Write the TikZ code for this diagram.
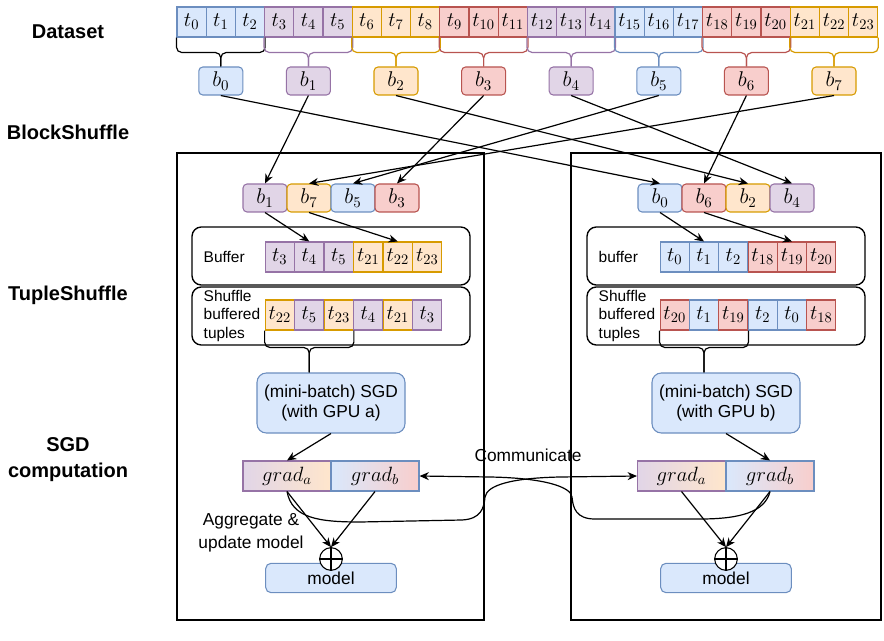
\documentclass[tikz,border=0pt]{standalone}
\usepackage{fix-cm}
\usepackage{fontspec}
\setmainfont{Liberation Sans}
\usepackage{xcolor}
\definecolor{sgblue}{HTML}{6C8EBF}
\definecolor{sgbluebg}{HTML}{DAE8FC}
\definecolor{sgpurple}{HTML}{9673A6}
\definecolor{sgpurplebg}{HTML}{E1D5E7}
\definecolor{sgorange}{HTML}{D79B00}
\definecolor{sgorangebg}{HTML}{FFE6CC}
\definecolor{sgred}{HTML}{B85450}
\definecolor{sgredbg}{HTML}{F8CECC}
\usepackage{tikz}
\usetikzlibrary{arrows.meta, calc}

% brace under a group of cells: colour, left cell, right cell, middle cell, target, drop
\newcommand{\grpbrace}[6]{%
  \draw[#1, line width=0.9pt, rounded corners=4pt] (#2.south west) -- ++(0,#6) -| (#4 |- #5.north);
  \draw[#1, line width=0.9pt, rounded corners=4pt] (#3.south east) -- ++(0,#6) -| (#4 |- #5.north);
}

\begin{document}
\begin{tikzpicture}[x=0.75pt, y=-0.75pt,
  cell/.style={draw, line width=0.8pt, minimum width=21.9pt, minimum height=22.5pt, inner sep=0pt, font=\fontsize{15.5}{18}\selectfont},
  blk/.style={draw, line width=0.8pt, rounded corners=3pt, minimum width=33pt, minimum height=21pt, inner sep=0pt, font=\fontsize{16}{18}\selectfont},
  cb/.style={fill=sgbluebg, draw=sgblue},
  cp/.style={fill=sgpurplebg, draw=sgpurple},
  co/.style={fill=sgorangebg, draw=sgorange},
  cr/.style={fill=sgredbg, draw=sgred},
  gcell/.style={draw, line width=0.8pt, minimum width=66pt, minimum height=22.5pt, inner sep=0pt, font=\fontsize{15.5}{18}\selectfont},
  sgdbox/.style={draw=sgblue, fill=sgbluebg, line width=0.8pt, rounded corners=7pt, minimum width=111pt, minimum height=45pt, align=center, font=\fontsize{13}{15}\selectfont},
  modelbox/.style={draw=sgblue, fill=sgbluebg, line width=0.8pt, rounded corners=4pt, minimum width=98pt, minimum height=22pt, font=\fontsize{13}{15}\selectfont},
  sumnode/.style={draw, circle, fill=white, line width=0.8pt, minimum size=17pt, inner sep=0pt},
  stage/.style={font=\fontsize{15}{19.5}\selectfont\bfseries, align=center},
  txt/.style={font=\fontsize{13}{15}\selectfont, align=center},
  boxtxt/.style={font=\fontsize{11.6}{14}\selectfont, align=left, anchor=west},
  arr/.style={-{Stealth[length=7pt, width=6pt]}, line width=0.9pt},
  frame/.style={line width=1pt, rounded corners=7pt}
]
  \useasboundingbox (0,0) rectangle (884,641);

  % Stage labels
  \node[stage] (lDataset) at (68,32) {Dataset};
  \node[stage] (lBlock) at (68,132) {BlockShuffle};
  \node[stage] (lTuple) at (68,295) {TupleShuffle};
  \node[stage] (lSGD) at (68,460) {SGD\\computation};

  % Worker panels
  \draw[line width=1pt] (177,153) rectangle (484,620);
  \draw[line width=1pt] (571,153) rectangle (881,620);

  % Dataset tuples
  \node[cell, cb] (t0) at (191.6,22) {$t_{0}$};
  \node[cell, cb] (t1) at (220.8,22) {$t_{1}$};
  \node[cell, cb] (t2) at (250.0,22) {$t_{2}$};
  \node[cell, cp] (t3) at (279.2,22) {$t_{3}$};
  \node[cell, cp] (t4) at (308.4,22) {$t_{4}$};
  \node[cell, cp] (t5) at (337.6,22) {$t_{5}$};
  \node[cell, co] (t6) at (366.8,22) {$t_{6}$};
  \node[cell, co] (t7) at (396.0,22) {$t_{7}$};
  \node[cell, co] (t8) at (425.2,22) {$t_{8}$};
  \node[cell, cr] (t9) at (454.4,22) {$t_{9}$};
  \node[cell, cr] (t10) at (483.6,22) {$t_{10}$};
  \node[cell, cr] (t11) at (512.8,22) {$t_{11}$};
  \node[cell, cp] (t12) at (542.0,22) {$t_{12}$};
  \node[cell, cp] (t13) at (571.2,22) {$t_{13}$};
  \node[cell, cp] (t14) at (600.4,22) {$t_{14}$};
  \node[cell, cb] (t15) at (629.6,22) {$t_{15}$};
  \node[cell, cb] (t16) at (658.8,22) {$t_{16}$};
  \node[cell, cb] (t17) at (688.0,22) {$t_{17}$};
  \node[cell, cr] (t18) at (717.2,22) {$t_{18}$};
  \node[cell, cr] (t19) at (746.4,22) {$t_{19}$};
  \node[cell, cr] (t20) at (775.6,22) {$t_{20}$};
  \node[cell, co] (t21) at (804.8,22) {$t_{21}$};
  \node[cell, co] (t22) at (834.0,22) {$t_{22}$};
  \node[cell, co] (t23) at (863.2,22) {$t_{23}$};

  % Blocks
  \node[blk, cb] (b0) at (220.8,81) {$b_0$};
  \node[blk, cp] (b1) at (308.4,81) {$b_1$};
  \node[blk, co] (b2) at (396.0,81) {$b_2$};
  \node[blk, cr] (b3) at (483.6,81) {$b_3$};
  \node[blk, cp] (b4) at (571.2,81) {$b_4$};
  \node[blk, cb] (b5) at (658.8,81) {$b_5$};
  \node[blk, cr] (b6) at (746.4,81) {$b_6$};
  \node[blk, co] (b7) at (834.0,81) {$b_7$};

  \grpbrace{black}{t0}{t2}{t1}{b0}{15}
  \grpbrace{sgpurple}{t3}{t5}{t4}{b1}{15}
  \grpbrace{sgorange}{t6}{t8}{t7}{b2}{15}
  \grpbrace{sgred}{t9}{t11}{t10}{b3}{15}
  \grpbrace{sgpurple}{t12}{t14}{t13}{b4}{15}
  \grpbrace{sgblue}{t15}{t17}{t16}{b5}{15}
  \grpbrace{sgred}{t18}{t20}{t19}{b6}{15}
  \grpbrace{sgorange}{t21}{t23}{t22}{b7}{15}

  % Shuffled blocks, worker a
  \node[blk, cp] (lb1) at (265,198) {$b_1$};
  \node[blk, co] (lb7) at (309,198) {$b_7$};
  \node[blk, cb] (lb5) at (353,198) {$b_5$};
  \node[blk, cr] (lb3) at (397,198) {$b_3$};

  % Shuffled blocks, worker b
  \node[blk, cb] (rb0) at (660,198) {$b_0$};
  \node[blk, cr] (rb6) at (704,198) {$b_6$};
  \node[blk, co] (rb2) at (748,198) {$b_2$};
  \node[blk, cp] (rb4) at (792,198) {$b_4$};

  % BlockShuffle arrows
  \draw[arr] (b0.south) -- (rb0.north);
  \draw[arr] (b1.south) -- (lb1.north);
  \draw[arr] (b2.south) -- (rb2.north);
  \draw[arr] (b3.south) -- (lb3.north);
  \draw[arr] (b4.south) -- (rb4.north);
  \draw[arr] (b5.south) -- (lb5.north);
  \draw[arr] (b6.south) -- (rb6.north);
  \draw[arr] (b7.south) -- (lb7.north);

  % Buffer and shuffle frames
  \draw[frame] (192,227) rectangle (470,285);
  \draw[frame] (192,287) rectangle (470,345);
  \draw[frame] (587,227) rectangle (865,285);
  \draw[frame] (587,287) rectangle (865,345);
  \node[boxtxt] (lbuftxt) at (199,257) {Buffer};
  \node[boxtxt] (lshtxt) at (199,316) {Shuffle\\buffered\\tuples};
  \node[boxtxt] (rbuftxt) at (594,257) {buffer};
  \node[boxtxt] (rshtxt) at (594,316) {Shuffle\\buffered\\tuples};

  % Buffer, worker a
  \node[cell, cp] (lq1) at (279.75,257) {$t_{3}$};
  \node[cell, cp] (lq2) at (309.25,257) {$t_{4}$};
  \node[cell, cp] (lq3) at (338.75,257) {$t_{5}$};
  \node[cell, co] (lq4) at (368.25,257) {$t_{21}$};
  \node[cell, co] (lq5) at (397.75,257) {$t_{22}$};
  \node[cell, co] (lq6) at (427.25,257) {$t_{23}$};

  % Shuffled buffer, worker a
  \node[cell, co] (ls1) at (279.75,315) {$t_{22}$};
  \node[cell, cp] (ls2) at (309.25,315) {$t_{5}$};
  \node[cell, co] (ls3) at (338.75,315) {$t_{23}$};
  \node[cell, cp] (ls4) at (368.25,315) {$t_{4}$};
  \node[cell, co] (ls5) at (397.75,315) {$t_{21}$};
  \node[cell, cp] (ls6) at (427.25,315) {$t_{3}$};

  % Buffer, worker b
  \node[cell, cb] (rq1) at (674.7,257) {$t_{0}$};
  \node[cell, cb] (rq2) at (704.0,257) {$t_{1}$};
  \node[cell, cb] (rq3) at (733.3,257) {$t_{2}$};
  \node[cell, cr] (rq4) at (762.7,257) {$t_{18}$};
  \node[cell, cr] (rq5) at (792.0,257) {$t_{19}$};
  \node[cell, cr] (rq6) at (821.3,257) {$t_{20}$};

  % Shuffled buffer, worker b
  \node[cell, cr] (rs1) at (674.7,315) {$t_{20}$};
  \node[cell, cb] (rs2) at (704.0,315) {$t_{1}$};
  \node[cell, cr] (rs3) at (733.3,315) {$t_{19}$};
  \node[cell, cb] (rs4) at (762.7,315) {$t_{2}$};
  \node[cell, cb] (rs5) at (792.0,315) {$t_{0}$};
  \node[cell, cr] (rs6) at (821.3,315) {$t_{18}$};

  \draw[arr] (lb1.south) -- (lq2.north);
  \draw[arr] (lb7.south) -- (lq5.north);
  \draw[arr] (rb0.south) -- (rq2.north);
  \draw[arr] (rb6.south) -- (rq5.north);

  % SGD
  \node[sgdbox] (sgdA) at (331,403) {(mini-batch) SGD\\(with GPU a)};
  \node[sgdbox] (sgdB) at (726,403) {(mini-batch) SGD\\(with GPU b)};
  \grpbrace{black}{ls1}{ls3}{ls2}{sgdA}{17}
  \grpbrace{black}{rs1}{rs3}{rs2}{sgdB}{17}

  % Gradients
  \node[gcell, draw=sgpurple, left color=sgpurplebg, right color=sgorangebg] (lga) at (287,476) {$grad_a$};
  \node[gcell, draw=sgblue, left color=sgbluebg, right color=sgredbg] (lgb) at (375,476) {$grad_b$};
  \node[gcell, draw=sgpurple, left color=sgpurplebg, right color=sgorangebg] (rga) at (681.5,476) {$grad_a$};
  \node[gcell, draw=sgblue, left color=sgbluebg, right color=sgredbg] (rgb) at (770,476) {$grad_b$};
  \draw[arr] (sgdA.south) -- (lga.north);
  \draw[arr] (sgdB.south) -- (rgb.north);

  % Communicate
  \node[txt] (comm) at (528,455) {Communicate};
  \draw[arr] (lga.south) .. controls (292,518) and (318,522) .. (360,522)
    -- (462,520) .. controls (481,519) and (484,508) .. (485,497)
    .. controls (487,485) and (512,478) .. (560,477) -- (rga.west);
  \draw[arr] (rgb.south) .. controls (765,512) and (740,519) .. (700,519)
    -- (595,519) .. controls (576,519) and (573,508) .. (572,497)
    .. controls (571,487) and (545,478) .. (490,477) -- (lgb.east);

  % Aggregate and model
  \node[txt] (aggr) at (251,533) {Aggregate \&\\[2pt]update model};
  \node[modelbox] (lmodel) at (331,578) {model};
  \node[modelbox] (rmodel) at (726,578) {model};
  \node[sumnode] (lsum) at (331,559) {};
  \node[sumnode] (rsum) at (726,559) {};
  \draw[line width=0.8pt] (lsum.north) -- (lsum.south) (lsum.west) -- (lsum.east);
  \draw[line width=0.8pt] (rsum.north) -- (rsum.south) (rsum.west) -- (rsum.east);
  \draw[arr] (lga.south) -- (lsum.north);
  \draw[arr] (lgb.south) -- (lsum.north);
  \draw[arr] (rga.south) -- (rsum.north);
  \draw[arr] (rgb.south) -- (rsum.north);
\end{tikzpicture}
\end{document}
